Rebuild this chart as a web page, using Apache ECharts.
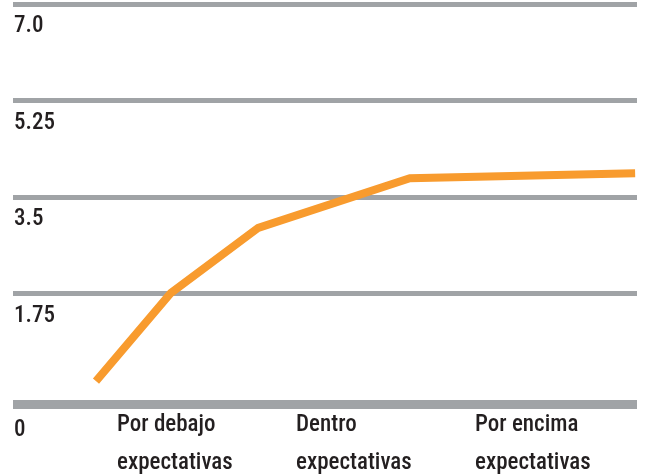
<!DOCTYPE html>
<html lang="es">
<head>
    <meta charset="UTF-8">
    <title>Expectativas</title>
    <script src="https://cdn.jsdelivr.net/npm/echarts@6/dist/echarts.min.js"></script>
    <style>
        html, body { margin: 0; padding: 0; background: #fff; }
        #chart { width: 645px; height: 474px; }
    </style>
</head>
<body>
<div id="chart"></div>
<script>
    // etiquetas de categoria (eje x)
    var categories = ['Por debajo\nexpectativas', 'Dentro\nexpectativas', 'Por encima\nexpectativas'];
    // posicion horizontal de cada vertice (0-100) y su valor
    var pointX = [13.3, 25.3, 39.3, 63.6, 99.7];
    var pointY = [0.16, 1.76, 2.94, 3.84, 3.93];
    // marcas del eje y
    var yTicks = [0, 1.75, 3.5, 5.25, 7.0];

    var font = "'Roboto Condensed', 'DejaVu Sans Condensed', 'Liberation Sans Narrow', Roboto, sans-serif";
    var grey = '#a0a3a6';
    var ink = '#231f20';

    var lineData = [];
    for (var i = 0; i < pointX.length; i++) {
        lineData.push([pointX[i], pointY[i]]);
    }

    var chart = echarts.init(document.getElementById('chart'));
    var option = {
        animation: false,
        grid: [
            {left: 13, right: 8, top: 4, bottom: 84, outerBoundsMode: 'none'},
            {left: 117, width: 358, top: 4, bottom: 84, outerBoundsMode: 'none'},
            // linea base gruesa, un poco mas abajo
            {left: 13, right: 8, top: 4, bottom: 70, outerBoundsMode: 'none'}
        ],
        xAxis: [
            {
                type: 'value', gridIndex: 0, min: 0, max: 100, show: false
            },
            {
                type: 'category', gridIndex: 1, boundaryGap: false,
                data: categories,
                axisLine: {show: false},
                axisTick: {show: false},
                axisLabel: {
                    align: 'left', margin: 16,
                    fontFamily: font, fontSize: 23, fontWeight: 500, color: ink, lineHeight: 38
                }
            },
            {
                type: 'value', gridIndex: 2, min: 0, max: 100,
                axisLine: {show: true, lineStyle: {color: grey, width: 9, cap: 'butt'}},
                axisTick: {show: false},
                axisLabel: {show: false},
                splitLine: {show: false}
            }
        ],
        yAxis: [
            {
                type: 'value', gridIndex: 0, min: yTicks[0], max: yTicks[4], interval: 1.75,
                axisLine: {show: false},
                axisTick: {show: false},
                splitLine: {show: true, showMinLine: false, lineStyle: {color: grey, width: 5}},
                axisLabel: {
                    inside: true, margin: 1, align: 'left', verticalAlign: 'top',
                    fontFamily: font, fontSize: 23, color: ink,
                    formatter: function (v) {
                        if (v === 0) return '{z|0}';
                        if (v === 7) return '{n|7.0}';
                        return '{n|' + v + '}';
                    },
                    rich: {
                        n: {fontFamily: font, fontSize: 23, fontWeight: 500, color: ink, padding: [11, 0, 0, 0]},
                        z: {fontFamily: font, fontSize: 23, fontWeight: 500, color: ink, padding: [29, 0, 0, 0]}
                    }
                }
            },
            {type: 'value', gridIndex: 1, show: false},
            {type: 'value', gridIndex: 2, show: false}
        ],
        series: [
            {
                type: 'line',
                xAxisIndex: 0, yAxisIndex: 0,
                data: lineData,
                showSymbol: false,
                symbol: 'none',
                lineStyle: {color: '#f89b2e', width: 8, cap: 'butt', join: 'miter'}
            }
        ]
    };
    chart.setOption(option);
</script>
</body>
</html>
